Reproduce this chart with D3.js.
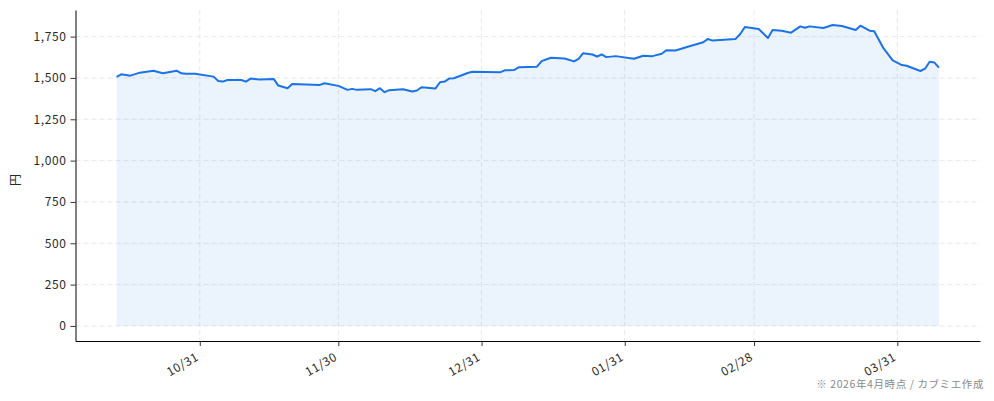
<!DOCTYPE html>
<html>
<head>
<meta charset="utf-8">
<script src="https://cdn.jsdelivr.net/npm/d3@7"></script>
<style>
  body { margin: 0; background: #fff; }
  svg text { font-family: "Noto Sans CJK JP", "Noto Sans", sans-serif; }
</style>
</head>
<body>
<svg id="chart" width="994" height="401"></svg>
<script>
// price data
var dates = [
  "2025-10-13","2025-10-14","2025-10-16","2025-10-18","2025-10-21","2025-10-23","2025-10-26","2025-10-27",
  "2025-10-28","2025-10-30","2025-11-03","2025-11-04","2025-11-05","2025-11-06","2025-11-09","2025-11-10",
  "2025-11-11","2025-11-13","2025-11-16","2025-11-17","2025-11-19","2025-11-20","2025-11-26","2025-11-27",
  "2025-11-30","2025-12-02","2025-12-03","2025-12-04","2025-12-07","2025-12-08","2025-12-09","2025-12-10",
  "2025-12-11","2025-12-14","2025-12-16","2025-12-17","2025-12-18","2025-12-21","2025-12-22","2025-12-23",
  "2025-12-24","2025-12-25","2025-12-28","2025-12-29","2026-01-04","2026-01-05","2026-01-07","2026-01-08",
  "2026-01-12","2026-01-13","2026-01-15","2026-01-18","2026-01-20","2026-01-21","2026-01-22","2026-01-24",
  "2026-01-25","2026-01-26","2026-01-27","2026-01-29","2026-02-02","2026-02-04","2026-02-06","2026-02-08",
  "2026-02-09","2026-02-11","2026-02-14","2026-02-17","2026-02-18","2026-02-19","2026-02-24","2026-02-25",
  "2026-02-26","2026-03-01","2026-03-03","2026-03-04","2026-03-06","2026-03-08","2026-03-10","2026-03-11",
  "2026-03-12","2026-03-15","2026-03-17","2026-03-19","2026-03-22","2026-03-23","2026-03-25","2026-03-26",
  "2026-03-28","2026-03-30","2026-04-01","2026-04-02","2026-04-05","2026-04-06","2026-04-07","2026-04-08",
  "2026-04-09"
];
var prices = [
  1506,1522,1514,1532,1544,1528,1544,1528,
  1526,1526,1508,1482,1478,1488,1488,1478,
  1496,1490,1494,1454,1438,1464,1458,1468,
  1452,1428,1434,1428,1432,1420,1438,1414,
  1426,1432,1418,1424,1444,1436,1474,1478,
  1496,1498,1530,1538,1534,1546,1548,1564,
  1568,1602,1622,1618,1600,1616,1650,1642,
  1630,1642,1626,1632,1616,1634,1632,1646,
  1668,1666,1692,1716,1736,1726,1736,1766,
  1808,1796,1742,1790,1786,1774,1812,1804,
  1812,1802,1820,1814,1790,1816,1786,1782,
  1680,1606,1578,1574,1542,1556,1598,1594,
  1562
];
var xTickDates = ["2025-10-31","2025-11-30","2025-12-31","2026-01-31","2026-02-28","2026-03-31"];
var yTicks = [0, 250, 500, 750, 1000, 1250, 1500, 1750];
var yLabel = "円";
var footNote = "※ 2026年4月時点 / カブミエ作成";

var parse = d3.timeParse("%Y-%m-%d");
var data = dates.map(function (d, i) { return { date: parse(d), value: prices[i] }; });

var margin = { top: 10, right: 14, bottom: 60, left: 75.5 },
  w = 994 - margin.left - margin.right,
  h = 401 - margin.top - margin.bottom;

var svg = d3.select("#chart");
var g = svg.append("g").attr("transform", `translate(${margin.left},${margin.top})`);

// x scale with 5% padding like matplotlib
var ext = d3.extent(data, function (d) { return d.date; });
var pad = (ext[1] - ext[0]) * 0.05;
var x = d3.scaleTime()
  .domain([new Date(+ext[0] - pad), new Date(+ext[1] + pad)])
  .range([0, w]);

var yMax = d3.max(prices);
var y = d3.scaleLinear()
  .domain([-yMax * 0.05, yMax * 1.05])
  .range([h, 0]);

// grid
g.append("g")
  .selectAll("line")
  .data(yTicks)
  .join("line")
  .attr("x1", 0).attr("x2", w)
  .attr("y1", function (d) { return y(d); })
  .attr("y2", function (d) { return y(d); })
  .attr("stroke", "#e3e3e6")
  .attr("stroke-width", 0.8)
  .attr("stroke-dasharray", "5,3");

g.append("g")
  .selectAll("line")
  .data(xTickDates.map(parse))
  .join("line")
  .attr("x1", function (d) { return x(d); })
  .attr("x2", function (d) { return x(d); })
  .attr("y1", 0).attr("y2", h)
  .attr("stroke", "#e3e3e6")
  .attr("stroke-width", 0.8)
  .attr("stroke-dasharray", "5,3");

// area + line
var area = d3.area()
  .x(function (d) { return x(d.date); })
  .y0(y(0))
  .y1(function (d) { return y(d.value); });

g.append("path")
  .datum(data)
  .attr("d", area)
  .attr("fill", "#1a73e8")
  .attr("fill-opacity", 0.085);

var line = d3.line()
  .x(function (d) { return x(d.date); })
  .y(function (d) { return y(d.value); });

g.append("path")
  .datum(data)
  .attr("d", line)
  .attr("fill", "none")
  .attr("stroke", "#1a73e8")
  .attr("stroke-width", 2)
  .attr("stroke-linejoin", "round");

// axes
var xAxis = g.append("g")
  .attr("transform", `translate(0,${h})`)
  .call(d3.axisBottom(x)
    .tickValues(xTickDates.map(parse))
    .tickFormat(d3.timeFormat("%m/%d"))
    .tickSize(5)
    .tickSizeOuter(0));

var yAxis = g.append("g")
  .call(d3.axisLeft(y)
    .tickValues(yTicks)
    .tickFormat(d3.format(","))
    .tickSize(5)
    .tickSizeOuter(0));

[xAxis, yAxis].forEach(function (a) {
  a.select(".domain").attr("stroke", "#000").attr("stroke-width", 1);
  a.selectAll(".tick line").attr("stroke", "#000").attr("stroke-width", 0.8);
  a.selectAll("text")
    .attr("fill", "#2a2a2a")
    .attr("font-size", 12)
    .attr("letter-spacing", 0.6);
});
yAxis.selectAll("text").attr("x", -9);

xAxis.selectAll("text")
  .attr("x", 0)
  .attr("y", 0)
  .attr("dy", "0.71em")
  .attr("text-anchor", "end")
  .attr("transform", "translate(-5,11) rotate(-30)");

// y label
svg.append("text")
  .attr("transform", "translate(20,180) rotate(-90)")
  .attr("text-anchor", "middle")
  .attr("font-size", 12)
  .attr("fill", "#2a2a2a")
  .text(yLabel);

// footnote
svg.append("text")
  .attr("x", 984)
  .attr("y", 388)
  .attr("text-anchor", "end")
  .attr("font-size", 10.5)
  .attr("letter-spacing", 0.6)
  .attr("fill", "#8a8a8a")
  .text(footNote);
</script>
</body>
</html>
